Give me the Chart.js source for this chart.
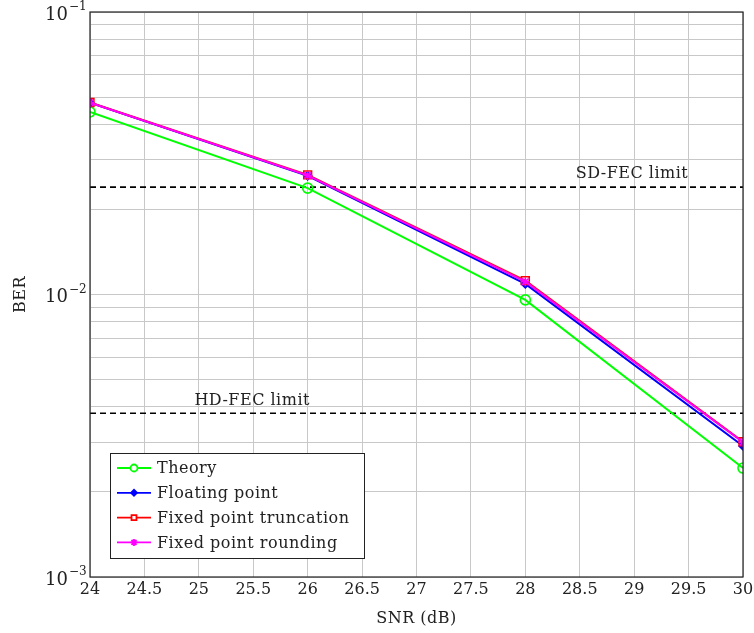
<!DOCTYPE html>
<html>
<head>
<meta charset="utf-8">
<script src="https://cdn.jsdelivr.net/npm/chart.js@4.4.1/dist/chart.umd.min.js"></script>
<style>
  html, body { margin: 0; padding: 0; background: #fff; }
  #wrap { width: 754px; height: 633px; position: relative; }
</style>
</head>
<body>
<div id="wrap"><canvas id="berChart"></canvas></div>
<script>
// data
const snr = [24, 26, 28, 30];
const berTheory = [0.0443, 0.0238, 0.00957, 0.00243];
const berFloating = [0.0477, 0.0263, 0.0109, 0.00291];
const berTruncation = [0.0478, 0.0265, 0.0112, 0.00301];
const berRounding = [0.0477, 0.0264, 0.0111, 0.00300];
const fecX = [24, 30];
const sdFecLimit = 0.024;
const hdFecLimit = 0.0038;
const yDecades = [1e-3, 1e-2, 1e-1];

const serif = '"DejaVu Serif", "Liberation Serif", serif';

function pts(xs, ys) {
    return xs.map((x, i) => ({ x: x, y: ys[i] }));
}

// log ticks 1..9 per decade, for the grid
function logTicks() {
    let t = [];
    for (let d = 0; d < yDecades.length - 1; d++) {
        for (let k = 1; k <= 9; k++) t.push({ value: k * yDecades[d] });
    }
    t.push({ value: yDecades[yDecades.length - 1] });
    return t;
}

const series = [
    { label: 'Theory', data: berTheory, color: '#00ff00', style: 'circle', radius: 5, fill: false },
    { label: 'Floating point', data: berFloating, color: '#0000ff', style: 'rectRot', radius: 4, fill: true },
    { label: 'Fixed point truncation', data: berTruncation, color: '#ff0000', style: 'rect', radius: 5.5, fill: false },
    { label: 'Fixed point rounding', data: berRounding, color: '#ff00ff', style: 'star', radius: 4.5, fill: false }
];

// lower order is drawn on top, so the last series ends up over the others
const datasets = series.map((s, i) => ({
    label: s.label,
    data: pts(snr, s.data),
    order: series.length - i,
    borderColor: s.color,
    backgroundColor: s.fill ? s.color : 'rgba(0,0,0,0)',
    borderWidth: 2,
    pointStyle: s.style,
    pointRadius: s.radius,
    pointBorderWidth: 1.6,
    pointBorderColor: s.color,
    pointBackgroundColor: s.fill ? s.color : 'rgba(0,0,0,0)',
    tension: 0
}));

datasets.push({
    label: 'SD-FEC',
    data: pts(fecX, [sdFecLimit, sdFecLimit]),
    order: 10,
    borderColor: '#000',
    borderWidth: 1.6,
    borderDash: [6, 4],
    pointRadius: 0
}, {
    label: 'HD-FEC',
    data: pts(fecX, [hdFecLimit, hdFecLimit]),
    order: 10,
    borderColor: '#000',
    borderWidth: 1.6,
    borderDash: [6, 4],
    pointRadius: 0
});

const decorPlugin = {
    id: 'decor',
    afterDraw(chart) {
        const ctx = chart.ctx;
        const a = chart.chartArea;
        const xs = chart.scales.x, ys = chart.scales.y;
        ctx.save();

        // frame
        ctx.strokeStyle = '#222';
        ctx.lineWidth = 1.2;
        ctx.strokeRect(a.left, a.top, a.right - a.left, a.bottom - a.top);

        // y tick labels 10^n
        ctx.fillStyle = '#222';
        ctx.textBaseline = 'middle';
        yDecades.forEach(v => {
            const py = ys.getPixelForValue(v);
            const exp = Math.round(Math.log10(v));
            ctx.font = '18px ' + serif;
            ctx.textAlign = 'right';
            ctx.fillText('10', 68, py + 3);
            ctx.font = '12px ' + serif;
            ctx.textAlign = 'left';
            ctx.fillText('\u2212' + Math.abs(exp), 69, py - 5);
        });

        // axis titles
        ctx.font = '16px ' + serif;
        ctx.letterSpacing = '0.5px';
        ctx.textAlign = 'center';
        ctx.fillText('SNR (dB)', (a.left + a.right) / 2, 619);
        ctx.save();
        ctx.translate(21, (a.top + a.bottom) / 2);
        ctx.rotate(-Math.PI / 2);
        ctx.fillText('BER', 0, 0);
        ctx.restore();

        // limit labels
        ctx.fillText('SD-FEC limit', xs.getPixelForValue(28.98), ys.getPixelForValue(sdFecLimit) - 13);
        ctx.fillText('HD-FEC limit', xs.getPixelForValue(25.49), ys.getPixelForValue(hdFecLimit) - 12);

        // legend box
        const bx = 110, by = 453, bw = 254, bh = 105;
        ctx.fillStyle = '#fff';
        ctx.fillRect(bx, by, bw, bh);
        ctx.strokeStyle = '#222';
        ctx.lineWidth = 1;
        ctx.strokeRect(bx + 0.5, by + 0.5, bw, bh);
        series.forEach((s, i) => {
            const ly = 468 + i * 24.8;
            ctx.strokeStyle = s.color;
            ctx.lineWidth = 1.8;
            ctx.beginPath();
            ctx.moveTo(117, ly);
            ctx.lineTo(151, ly);
            ctx.stroke();
            ctx.fillStyle = s.fill ? s.color : '#fff';
            Chart.helpers.drawPoint(ctx, {
                pointStyle: s.style,
                radius: s.style === 'rectRot' ? 3 : 3.5,
                borderWidth: 1.4,
                rotation: 0
            }, 134, ly);
            ctx.fillStyle = '#222';
            ctx.font = '16px ' + serif;
            ctx.textAlign = 'left';
            ctx.fillText(s.label, 157, ly + 1);
        });
        ctx.restore();
    }
};

new Chart(document.getElementById('berChart'), {
    type: 'line',
    data: { datasets: datasets },
    options: {
        responsive: true,
        maintainAspectRatio: false,
        animation: false,
        layout: { padding: { top: 12, right: 11, left: 0, bottom: 0 } },
        plugins: { legend: { display: false }, tooltip: { enabled: false } },
        scales: {
            x: {
                type: 'linear',
                min: 24, max: 30,
                ticks: {
                    stepSize: 0.5,
                    color: '#222',
                    padding: 3,
                    font: { family: serif, size: 16 },
                    maxRotation: 0,
                    callback: v => String(v)
                },
                grid: { color: '#c8c8c8', lineWidth: 1, tickLength: 0 },
                border: { display: false },
                afterFit(s) { s.height = 56; s.paddingLeft = 0; s.paddingRight = 0; }
            },
            y: {
                type: 'logarithmic',
                min: 1e-3, max: 1e-1,
                afterBuildTicks(s) { s.ticks = logTicks(); },
                ticks: { callback: () => '', autoSkip: false },
                grid: { color: '#c8c8c8', lineWidth: 1, tickLength: 0 },
                border: { display: false },
                afterFit(s) { s.width = 90; s.paddingTop = 0; s.paddingBottom = 0; }
            }
        }
    },
    plugins: [decorPlugin]
});
</script>
</body>
</html>
